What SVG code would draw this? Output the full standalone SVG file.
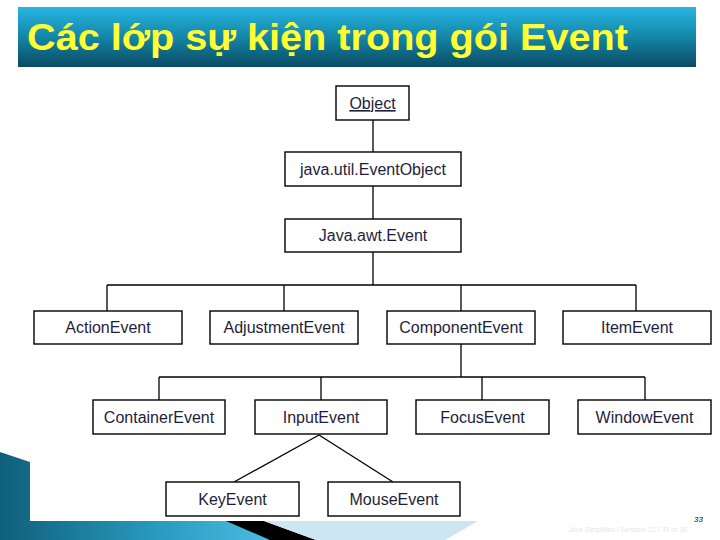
<svg xmlns="http://www.w3.org/2000/svg" width="720" height="540" viewBox="0 0 720 540">
  <defs>
    <linearGradient id="banner" x1="0" y1="0" x2="0" y2="1">
      <stop offset="0" stop-color="#27b6e2"/>
      <stop offset="0.5" stop-color="#1486a8"/>
      <stop offset="1" stop-color="#0a4a62"/>
    </linearGradient>
    <linearGradient id="teal" x1="0" y1="0" x2="1" y2="0">
      <stop offset="0" stop-color="#0f5f7a"/>
      <stop offset="0.6" stop-color="#2a9cc2"/>
      <stop offset="1" stop-color="#4bbde0"/>
    </linearGradient>
    <style>
      .box { fill: #ffffff; stroke: #000000; stroke-width: 1.4; }
      .lbl { font-family: "Liberation Sans", Arial, sans-serif; font-size: 16px; fill: #1e1e3c; text-anchor: middle; }
      .con { stroke: #000000; stroke-width: 1.3; fill: none; }
    </style>
  </defs>

  <rect x="0" y="0" width="720" height="540" fill="#ffffff"/>

  <!-- bottom decoration -->
  <g id="decoration">
    <polygon points="0,452 30,462 30,521 228,521 272,540 0,540" fill="url(#teal)"/>
    <polygon points="226,521 264,521 316,540 270,540" fill="#000000"/>
    <polygon points="264,521 478,521 445,540 316,540" fill="#cce7f1"/>
  </g>

  <!-- title banner -->
  <g id="title">
    <rect x="18" y="7" width="678" height="60" fill="url(#banner)"/>
    <text x="27" y="50" font-family="'Liberation Sans', Arial, sans-serif" font-size="36" font-weight="bold" fill="#ffff33" textLength="601" lengthAdjust="spacingAndGlyphs">Các lớp sự kiện trong gói Event</text>
  </g>

  <!-- connectors -->
  <g id="connectors">
    <line class="con" x1="373" y1="120" x2="373" y2="152"/>
    <line class="con" x1="373" y1="186" x2="373" y2="219"/>
    <line class="con" x1="373" y1="252" x2="373" y2="285"/>
    <line class="con" x1="107" y1="285" x2="636" y2="285"/>
    <line class="con" x1="107" y1="285" x2="107" y2="311"/>
    <line class="con" x1="284" y1="285" x2="284" y2="311"/>
    <line class="con" x1="461" y1="285" x2="461" y2="311" stroke-width="1.8"/>
    <line class="con" x1="636" y1="285" x2="636" y2="311"/>
    <line class="con" x1="461" y1="344" x2="461" y2="377" stroke-width="1.8"/>
    <line class="con" x1="159" y1="377" x2="645" y2="377"/>
    <line class="con" x1="159" y1="377" x2="159" y2="400"/>
    <line class="con" x1="321" y1="377" x2="321" y2="400"/>
    <line class="con" x1="482" y1="377" x2="482" y2="400"/>
    <line class="con" x1="645" y1="377" x2="645" y2="400" stroke-width="1.8"/>
    <line class="con" x1="319" y1="435" x2="234" y2="482" stroke-width="1.1"/>
    <line class="con" x1="319" y1="435" x2="393" y2="482" stroke-width="1.1"/>
  </g>

  <!-- nodes -->
  <g id="object">
    <rect class="box" x="336" y="86" width="73" height="34"/>
    <text class="lbl" x="372.5" y="109" text-decoration="underline">Object</text>
  </g>
  <g id="eventobject">
    <rect class="box" x="285" y="152" width="176" height="34"/>
    <text class="lbl" x="373" y="175">java.util.EventObject</text>
  </g>
  <g id="awtevent">
    <rect class="box" x="285" y="219" width="176" height="33"/>
    <text class="lbl" x="373" y="241">Java.awt.Event</text>
  </g>

  <g id="actionevent">
    <rect class="box" x="34" y="311" width="148" height="33"/>
    <text class="lbl" x="108" y="333">ActionEvent</text>
  </g>
  <g id="adjustmentevent">
    <rect class="box" x="210" y="311" width="148" height="33"/>
    <text class="lbl" x="284" y="333">AdjustmentEvent</text>
  </g>
  <g id="componentevent">
    <rect class="box" x="387" y="311" width="148" height="33"/>
    <text class="lbl" x="461" y="333">ComponentEvent</text>
  </g>
  <g id="itemevent">
    <rect class="box" x="563" y="311" width="148" height="33"/>
    <text class="lbl" x="637" y="333">ItemEvent</text>
  </g>

  <g id="containerevent">
    <rect class="box" x="93" y="400" width="132" height="34"/>
    <text class="lbl" x="159" y="423">ContainerEvent</text>
  </g>
  <g id="inputevent">
    <rect class="box" x="255" y="400" width="132" height="34"/>
    <text class="lbl" x="321" y="423">InputEvent</text>
  </g>
  <g id="focusevent">
    <rect class="box" x="416" y="400" width="133" height="34"/>
    <text class="lbl" x="482.5" y="423">FocusEvent</text>
  </g>
  <g id="windowevent">
    <rect class="box" x="578" y="400" width="133" height="34"/>
    <text class="lbl" x="644.5" y="423">WindowEvent</text>
  </g>

  <g id="keyevent">
    <rect class="box" x="166" y="482" width="133" height="34"/>
    <text class="lbl" x="232.5" y="505">KeyEvent</text>
  </g>
  <g id="mouseevent">
    <rect class="box" x="328" y="482" width="132" height="34"/>
    <text class="lbl" x="394" y="505">MouseEvent</text>
  </g>

  <!-- footer -->
  <g id="footer">
    <text x="568" y="532" font-family="'Liberation Sans', Arial, sans-serif" font-size="7" fill="#dfe9ee">Java Simplified / Session 22 / 33 of 38</text>
    <text x="694" y="522" font-family="'Liberation Sans', Arial, sans-serif" font-size="8" font-style="italic" fill="#000000">33</text>
  </g>
</svg>
